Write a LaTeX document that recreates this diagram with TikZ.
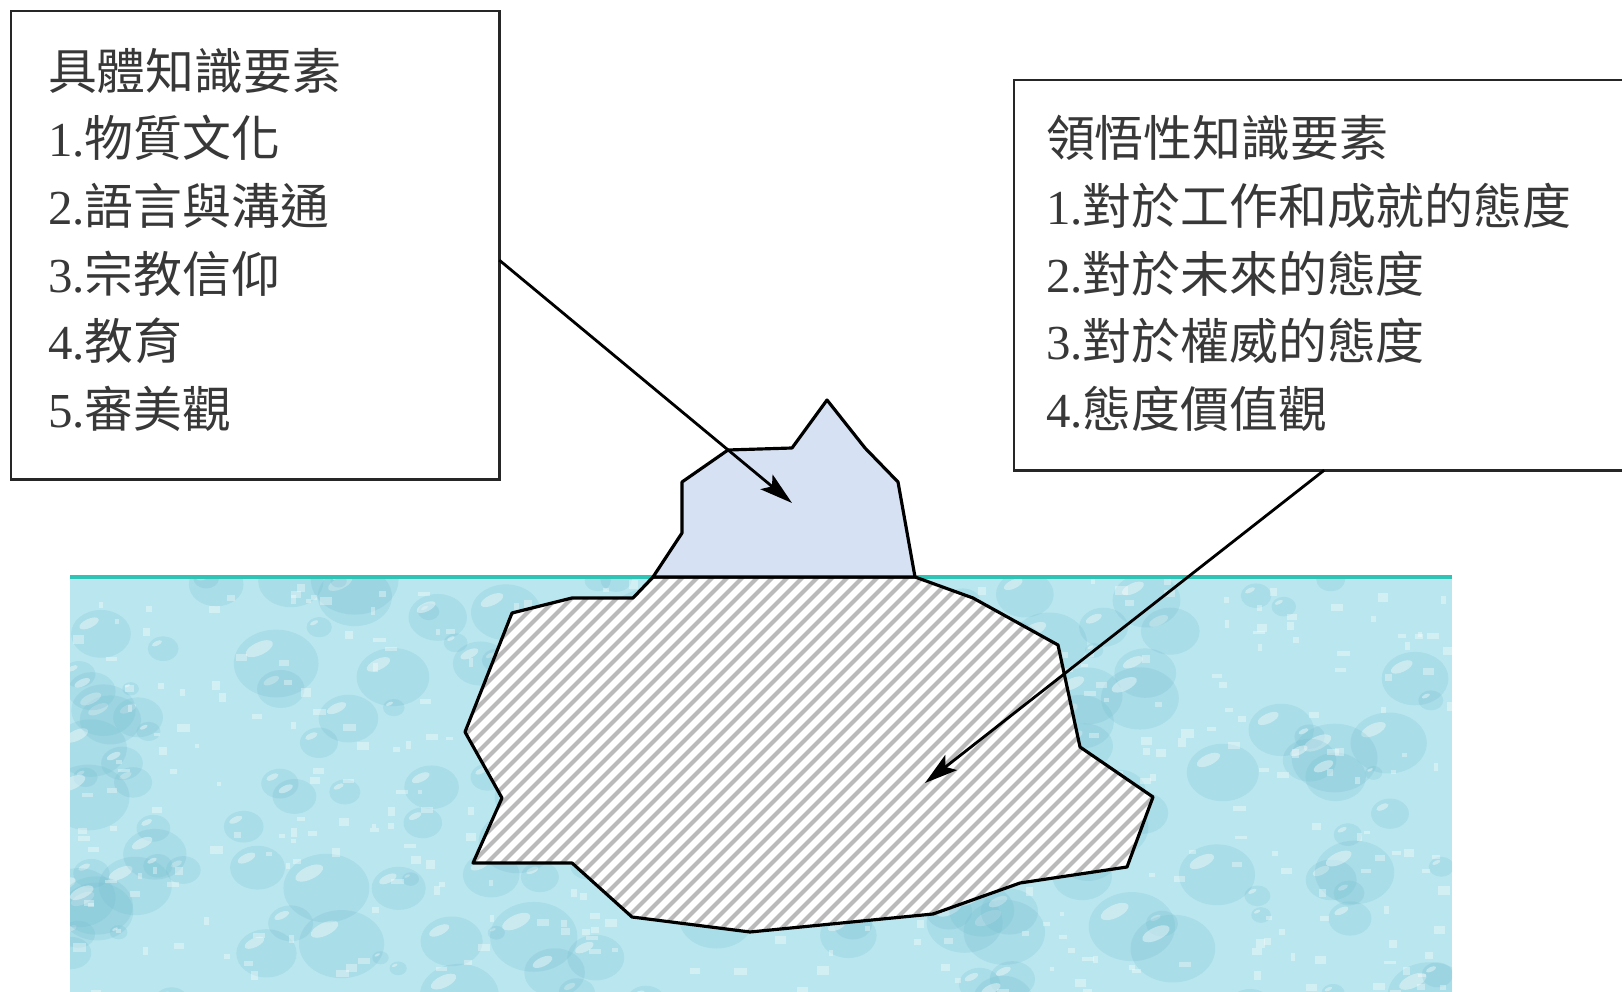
\documentclass[tikz,border=0pt]{standalone}
\usepackage{fontspec}
\setmainfont{Liberation Serif}
\newfontfamily\cjk{Noto Sans CJK TC}
\newfontfamily\numfont{Liberation Serif}
\usetikzlibrary{arrows.meta}

\definecolor{water}{RGB}{186,231,239}
\definecolor{drop}{RGB}{112,186,207}
\definecolor{surface}{RGB}{48,196,182}
\definecolor{icetop}{RGB}{214,226,243}
\definecolor{hatch}{RGB}{186,186,186}

\begin{document}
\begin{tikzpicture}[x=0.01cm,y=-0.01cm,
  infobox/.style={draw=black!85,line width=0.8pt,fill=white,inner sep=0pt,outer sep=0pt},
  item/.style={anchor=base west,inner sep=0pt,outer sep=0pt,text=black!78,
    font=\cjk\fontsize{13.9}{16}\selectfont},
  pointer/.style={line width=0.8pt,-{Stealth[length=0.33cm,width=0.19cm,inset=0.07cm]}},
  outline/.style={draw=black,line width=0.9pt,line join=round}]
\useasboundingbox (0,0) rectangle (1622,992);
\fill[white] (0,0) rectangle (1622,992);

% ---------- sea with droplet texture ----------
\begin{scope}
  \clip (70,577) rectangle (1452,992);
  \fill[water] (70,577) rectangle (1452,992);
  \pgfmathsetseed{11}
  \foreach \i in {1,...,190}{
    \pgfmathsetmacro\dx{70+1382*rnd}
    \pgfmathsetmacro\dy{577+430*rnd}
    \pgfmathsetmacro\dr{(8+36*rnd)*0.2845}
    \fill[drop,opacity=0.22] (\dx,\dy) ellipse [x radius=\dr pt, y radius=0.8*\dr pt];
    \fill[white,opacity=0.40] ([xshift=-0.4*\dr pt,yshift=0.35*\dr pt]\dx,\dy)
      ellipse [x radius=0.35*\dr pt, y radius=0.15*\dr pt, rotate=25];
  }
  \foreach \i in {1,...,420}{
    \pgfmathsetmacro\sx{70+1382*rnd}
    \pgfmathsetmacro\sy{577+415*rnd}
    \fill[white,opacity=0.35] (\sx,\sy) rectangle ++(4+9*rnd,3+6*rnd);
  }
\end{scope}
\draw[surface,line width=1pt] (70,577) -- (1452,577);

% ---------- iceberg: submerged part ----------
\def\under{(915,577) -- (973,598) -- (1058,645) -- (1080,747) -- (1153,797)
  -- (1127,867) -- (1060,877) -- (1020,883) -- (933,914) -- (750,932)
  -- (632,917) -- (572,863) -- (473,863) -- (502,798) -- (465,732)
  -- (512,613) -- (572,598) -- (633,598) -- (653,577) -- cycle}
\fill[white] \under;
\begin{scope}
  \clip \under;
  \foreach \s in {40,55,...,1180}
    \draw[hatch,line width=1.15pt] (\s,950) -- ++(420,-420);
\end{scope}
\draw[outline] \under;

% ---------- iceberg: visible tip ----------
\filldraw[outline,fill=icetop] (653,577) -- (682,533) -- (682,482) -- (728,450)
  -- (792,448) -- (827,400) -- (865,448) -- (898,482) -- (915,577) -- cycle;

% ---------- text boxes ----------
\node[infobox,anchor=north west,minimum width=4.88cm,minimum height=4.68cm]
  (concrete) at (11,11) {};
\node[infobox,anchor=north west,minimum width=6.30cm,minimum height=3.90cm]
  (insight) at (1014,80) {};

\node[item] (l0) at (48,90)  {具體知識要素};
\node[item] (l1) at (48,157) {{\numfont 1.}物質文化};
\node[item] (l2) at (48,225) {{\numfont 2.}語言與溝通};
\node[item] (l3) at (48,293) {{\numfont 3.}宗教信仰};
\node[item] (l4) at (48,360) {{\numfont 4.}教育};
\node[item] (l5) at (48,428) {{\numfont 5.}審美觀};

\node[item] (r0) at (1046,157) {領悟性知識要素};
\node[item] (r1) at (1046,225) {{\numfont 1.}對於工作和成就的態度};
\node[item] (r2) at (1046,293) {{\numfont 2.}對於未來的態度};
\node[item] (r3) at (1046,360) {{\numfont 3.}對於權威的態度};
\node[item] (r4) at (1046,428) {{\numfont 4.}態度價值觀};

% ---------- pointers ----------
\coordinate (tipA) at (792,503);
\coordinate (tipB) at (925,783);
\draw[pointer] ([yshift=-0.15cm]concrete.east) -- (tipA);
\draw[pointer] ([xshift=-0.05cm]insight.south) -- (tipB);
\end{tikzpicture}
\end{document}
